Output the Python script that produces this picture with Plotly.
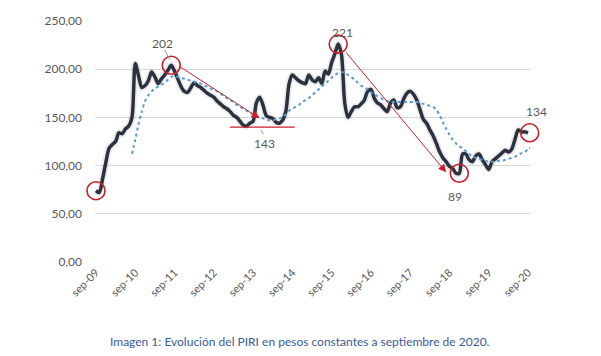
import plotly.graph_objects as go

tick_labels = ["sep-09", "sep-10", "sep-11", "sep-12", "sep-13", "sep-14",
               "sep-15", "sep-16", "sep-17", "sep-18", "sep-19", "sep-20"]

piri = [74, 72, 86, 103, 118, 122, 125, 134, 133, 138, 141, 150,
        206, 193, 181, 183, 188, 197, 192, 185, 190, 194, 199, 204,
        198, 190, 182, 177, 176, 181, 186, 183, 181, 178, 175, 173,
        171, 167, 164, 161, 159, 156, 152, 150, 146, 142, 141, 144,
        146, 165, 171, 163, 152, 150, 149, 145, 144, 147, 156, 185,
        194, 191, 188, 186, 185, 194, 189, 187, 191, 185, 198, 195,
        207, 216, 226, 215, 165, 150, 156, 161, 161, 164, 168, 177,
        179, 170, 165, 163, 159, 156, 165, 168, 160, 161, 169, 175,
        177, 174, 168, 158, 148, 144, 137, 131, 123, 114, 108, 104,
        99, 97, 92, 92, 112, 112, 106, 104, 110, 112, 106, 101,
        96, 104, 107, 110, 113, 116, 114, 117, 127, 137, 135, 135,
        134]

ma_start = 11
ma = [112, 127, 143, 156, 167, 173, 177, 180, 182, 184, 186, 189,
      192, 193, 192, 191, 190, 189, 188, 187, 186, 185, 183, 182,
      180, 178, 177, 175, 172, 170, 168, 166, 163, 161, 159, 157,
      155, 153, 151, 150, 149, 148, 147, 147, 148, 149, 150, 153,
      157, 159, 161, 163, 166, 168, 170, 173, 176, 179, 182, 185,
      188, 191, 194, 196, 197, 196, 194, 192, 189, 186, 183, 181,
      179, 176, 174, 172, 170, 168, 167, 166, 166, 166, 166, 166,
      166, 166, 166, 166, 165, 164, 163, 162, 161, 158, 152, 145,
      138, 132, 127, 123, 120, 118, 115, 112, 110, 108, 107, 106,
      105, 104, 104, 104, 105, 105, 106, 107, 108, 109, 111, 113,
      114, 117, 119]

# highlighted points (month index) and the label texts shown on the chart
marked_idx = [0, 23, 74, 111, 132]
label_texts = ["202", "143", "221", "89", "134"]

x_all = list(range(len(piri)))
x_ma = list(range(ma_start, ma_start + len(ma)))

RED = "#c8202c"
GRAY_TXT = "#595959"

fig = go.Figure()
fig.add_trace(go.Scatter(x=x_all, y=piri, mode="lines",
                         line=dict(color="rgba(0,0,0,0.08)", width=7, shape="spline", smoothing=0.8),
                         hoverinfo="skip", showlegend=False))
fig.add_trace(go.Scatter(x=x_all, y=piri, mode="lines",
                         line=dict(color="#2a323f", width=3.5, shape="spline", smoothing=0.8),
                         showlegend=False))
fig.add_trace(go.Scatter(x=x_ma, y=ma, mode="lines",
                         line=dict(color="#5b9bd5", width=2, dash="dot", shape="spline", smoothing=0.8),
                         showlegend=False))

# red circles around marked points (not clipped)
circ_x = [i + (0.5 if i == 132 else 0) for i in marked_idx]
circ_y = [piri[i] for i in marked_idx]
fig.add_trace(go.Scatter(x=circ_x, y=circ_y, mode="markers", cliponaxis=False,
                         marker=dict(symbol="circle-open", size=18, color=RED,
                                     line=dict(color=RED, width=1.6)),
                         hoverinfo="skip", showlegend=False))

# arrows
fig.add_annotation(x=50, y=149, ax=25, ay=204, xref="x", yref="y", axref="x", ayref="y",
                   showarrow=True, arrowhead=2, arrowsize=1.6, arrowwidth=1, arrowcolor=RED, text="")
fig.add_annotation(x=107, y=93, ax=76, ay=219, xref="x", yref="y", axref="x", ayref="y",
                   showarrow=True, arrowhead=2, arrowsize=1.6, arrowwidth=1, arrowcolor=RED, text="")
fig.add_shape(type="line", xref="x", yref="y", x0=40.9, x1=60.7, y0=140, y1=140,
              line=dict(color=RED, width=1.2))

# leader lines
fig.add_shape(type="line", xref="x", yref="y", x0=21, y0=220, x1=22.5, y1=210,
              line=dict(color="#9a9a9a", width=1))
fig.add_shape(type="line", xref="x", yref="y", x0=50.3, y0=137, x1=51.2, y1=133,
              line=dict(color="#9a9a9a", width=1))

label_pos = [(20.4, 227, 0), (51.5, 123, 0), (75.2, 238, 0), (109.7, 68, 0), (132, 156, 8)]
for (lx, ly, sx), t in zip(label_pos, label_texts):
    fig.add_annotation(x=lx, y=ly, xref="x", yref="y", xshift=sx, text=t, showarrow=False,
                       font=dict(family="Lato", size=12, color=GRAY_TXT))

fig.add_annotation(text="Imagen 1: Evolución del PIRI en pesos constantes a septiembre de 2020.",
                   xref="paper", yref="paper", x=0.031, y=-0.325, xanchor="left", yanchor="middle",
                   showarrow=False, font=dict(family="Lato", size=12, color="#3a5a9a"))

fig.update_layout(
    width=593, height=348,
    margin=dict(l=87, r=71, t=12, b=93),
    paper_bgcolor="white", plot_bgcolor="white",
    separators=",.",
    showlegend=False,
    xaxis=dict(range=[-0.3, 132.6], tickmode="array", automargin=False,
               tickvals=[12 * k for k in range(len(tick_labels))], ticktext=tick_labels,
               tickangle=-45, showgrid=False, zeroline=False, showline=False,
               tickfont=dict(family="Lato", size=11, color=GRAY_TXT), ticks=""),
    yaxis=dict(range=[-1, 251], tickmode="array", tickvals=[0, 50, 100, 150, 200, 250],
               automargin=False,
               tickformat=".2f", showgrid=True, gridcolor="#d9d9d9", gridwidth=1,
               zeroline=False, showline=False, ticks="", ticklabelstandoff=12,
               tickfont=dict(family="Lato", size=12, color=GRAY_TXT)),
)

fig.write_html("out.html")
